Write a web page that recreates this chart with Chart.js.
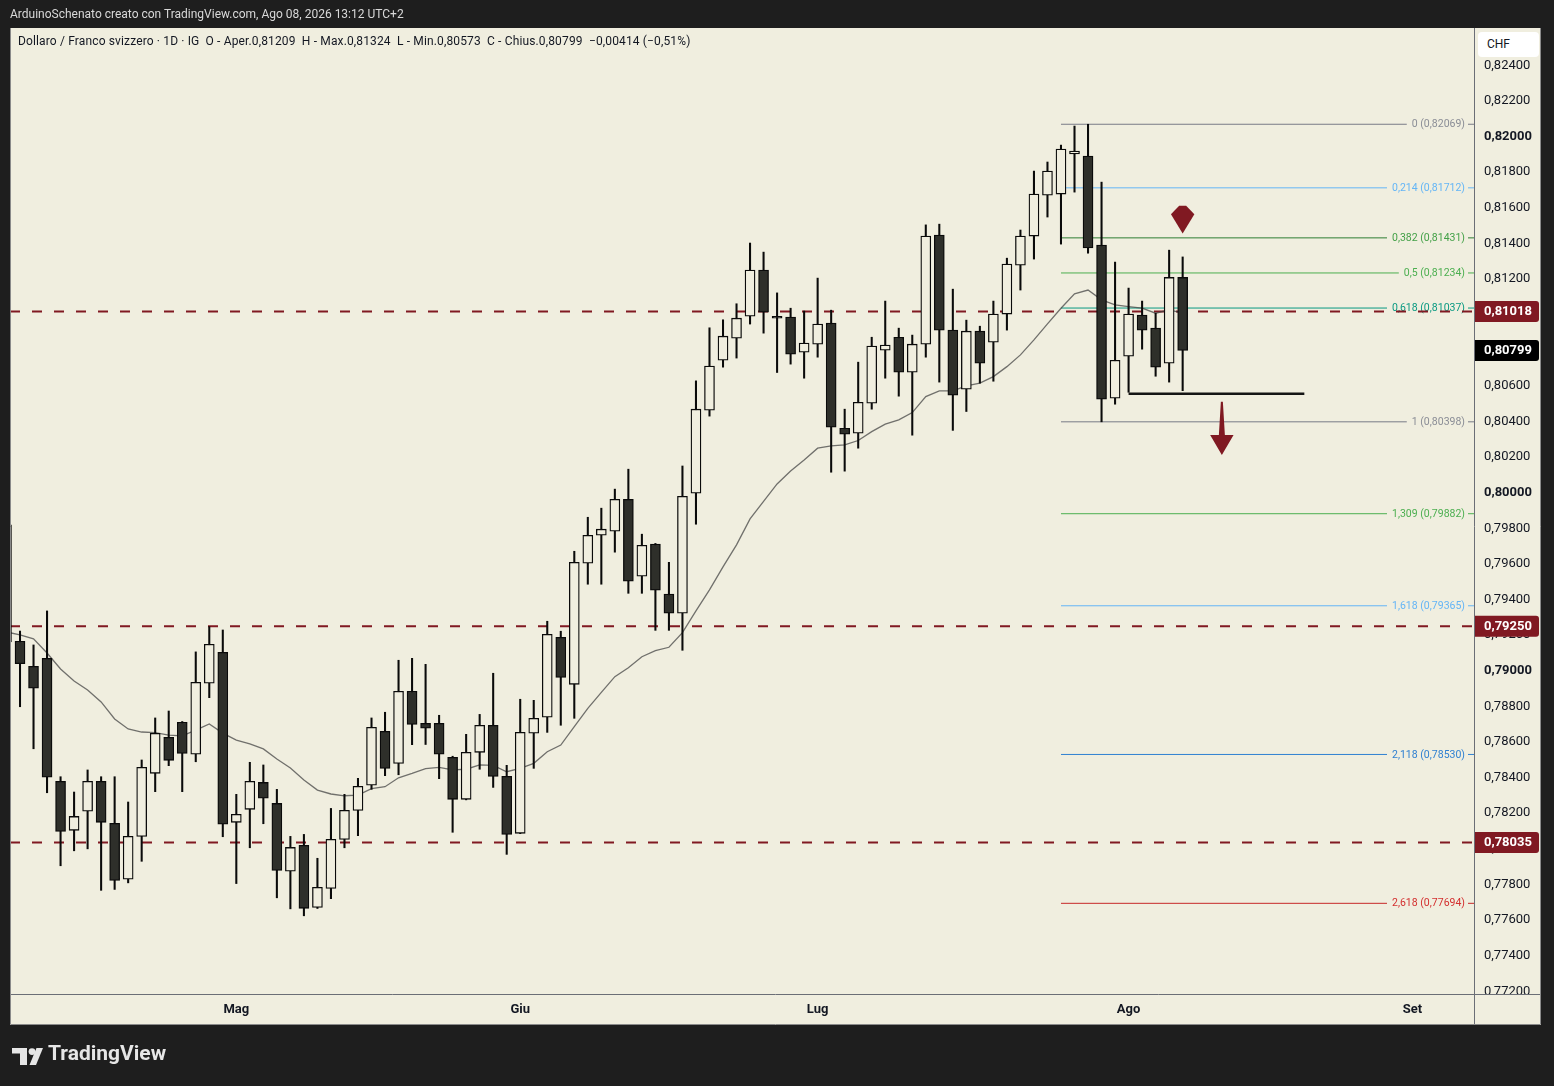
<!DOCTYPE html>
<html><head><meta charset="utf-8">
<script src="https://cdn.jsdelivr.net/npm/chart.js@4.4.1/dist/chart.umd.min.js"></script>
<style>
html,body{margin:0;padding:0;background:#1e1e1e;width:1554px;height:1086px;overflow:hidden}
#wrap{position:relative;width:1554px;height:1086px}
canvas{position:absolute;left:0;top:0}
.t{position:absolute;white-space:nowrap;font-family:Roboto,"Noto Sans",sans-serif}
</style></head><body>
<div id="wrap">
<canvas id="c" width="1554" height="1086"></canvas>
<div class="t" style="left:10px;top:7px;font-size:12px;color:#d8d8d8">ArduinoSchenato creato con TradingView.com, Ago 08, 2026 13:12 UTC+2</div>
<div class="t" style="left:18px;top:34px;font-size:12px;letter-spacing:0.14px;color:#131722">Dollaro / Franco svizzero · 1D · IG&nbsp; O - Aper.0,81209&nbsp; H - Max.0,81324&nbsp; L - Min.0,80573&nbsp; C - Chius.0,80799&nbsp; −0,00414 (−0,51%)</div>
<div class="t" style="left:1478px;top:32px;width:61px;height:25px;background:#ffffff;border-radius:4px;font-size:12px;color:#131722;line-height:25px;text-indent:9px">CHF</div>
<svg style="position:absolute;left:12px;top:1048px" width="32" height="18" viewBox="0 0 32 18">
  <rect x="0" y="0" width="15" height="5.5" fill="#e6e6e6"/>
  <rect x="8" y="0" width="7" height="17" fill="#e6e6e6"/>
  <circle cx="20" cy="3.6" r="3.4" fill="#e6e6e6"/>
  <polygon points="24.5,0 31,0 24,17 17.5,17" fill="#e6e6e6"/>
</svg>
<div class="t" style="left:48px;top:1041px;font-size:21px;font-weight:700;color:#e6e6e6">TradingView</div>
</div>
<script>
// ---- data (USD/CHF daily) ----
const candleStart = -17; // index of first candle (0 = 1 May 2026)
const opens  = [0.79819,0.79166,0.79025,0.79070,0.78379,0.78104,0.78211,0.78379,0.78143,0.77829,0.78070,0.78424,0.78626,0.78711,0.78531,0.78930,0.79104,
 0.78149,0.78222,0.78373,0.78255,0.77874,0.78020,0.77671,0.77778,0.78053,0.78216,0.78357,0.78660,0.78480,0.78885,0.78705,0.78705,0.78514,0.78278,0.78542,0.78694,0.78407,
 0.78087,0.78649,0.78739,0.79188,0.78924,0.79604,0.79761,0.79784,0.79963,0.79531,0.79711,0.79430,0.79323,0.79997,0.80463,0.80744,0.80868,0.80991,0.81250,0.80991,0.80986,0.80789,
 0.80834,0.80952,0.80362,0.80334,0.80503,0.80800,0.80873,0.80677,0.80834,0.81447,0.80913,0.80581,0.80907,0.80845,0.81003,0.81278,0.81441,0.81671,0.81677,0.81902,0.81890,0.81390,0.80531,
 0.80767,0.80997,0.80924,0.80727,0.81209];
const highs  = [0.79840,0.79223,0.79145,0.79336,0.78405,0.78319,0.78443,0.78405,0.78405,0.78263,0.78499,0.78735,0.78774,0.78715,0.79106,0.79248,0.79229,
 0.78306,0.78486,0.78471,0.78334,0.78070,0.78081,0.77947,0.78227,0.78306,0.78396,0.78735,0.78767,0.79059,0.79070,0.79036,0.78750,0.78520,0.78643,0.78755,0.78986,0.78469,
 0.78840,0.78834,0.79278,0.79222,0.79671,0.79862,0.79913,0.80020,0.80132,0.79767,0.79715,0.79609,0.80150,0.80628,0.80926,0.80971,0.81061,0.81402,0.81351,0.81122,0.81036,0.81020,
 0.81205,0.81025,0.80469,0.80733,0.80873,0.81076,0.80924,0.80885,0.81504,0.81508,0.81143,0.80969,0.80935,0.81076,0.81317,0.81475,0.81806,0.81857,0.81952,0.82059,0.82069,0.81744,0.81295,
 0.81149,0.81076,0.81008,0.81362,0.81324];
const lows   = [0.79130,0.78798,0.78562,0.78315,0.77905,0.77989,0.78000,0.77767,0.77772,0.77809,0.77930,0.78321,0.78467,0.78321,0.78489,0.78849,0.78068,
 0.77805,0.78006,0.78141,0.77725,0.77663,0.77624,0.77665,0.77720,0.78006,0.78074,0.78334,0.78411,0.78416,0.78585,0.78586,0.78394,0.78093,0.78275,0.78447,0.78345,0.77969,
 0.78085,0.78452,0.78654,0.78694,0.78733,0.79486,0.79486,0.79666,0.79435,0.79435,0.79227,0.79227,0.79115,0.79823,0.80430,0.80705,0.80756,0.80947,0.80896,0.80675,0.80722,0.80643,
 0.80761,0.80115,0.80121,0.80250,0.80469,0.80643,0.80542,0.80323,0.80761,0.80621,0.80350,0.80456,0.80615,0.80626,0.80913,0.81138,0.81312,0.81548,0.81396,0.81688,0.81345,0.80398,0.80497,
 0.80564,0.80806,0.80654,0.80621,0.80573];
const closes = [0.79162,0.79040,0.78902,0.78402,0.78098,0.78182,0.78379,0.78149,0.77823,0.78070,0.78458,0.78649,0.78497,0.78536,0.78935,0.79149,0.78138,
 0.78194,0.78379,0.78284,0.77879,0.78008,0.77666,0.77784,0.78053,0.78216,0.78351,0.78682,0.78452,0.78885,0.78699,0.78677,0.78531,0.78278,0.78542,0.78694,0.78407,0.78081,
 0.78654,0.78733,0.79205,0.78963,0.79609,0.79761,0.79795,0.79963,0.79503,0.79705,0.79452,0.79323,0.79980,0.80469,0.80711,0.80879,0.80980,0.81250,0.81014,0.80980,0.80778,0.80840,
 0.80947,0.80368,0.80329,0.80508,0.80823,0.80829,0.80677,0.80834,0.81441,0.80913,0.80548,0.80907,0.80727,0.81003,0.81284,0.81441,0.81677,0.81806,0.81930,0.81918,0.81374,0.80525,0.80744,
 0.81003,0.80913,0.80705,0.81209,0.80799];
const sma20  = [0.79218,0.79201,0.79179,0.79100,0.79010,0.78943,0.78892,0.78825,0.78729,0.78673,0.78656,0.78653,0.78639,0.78634,0.78667,0.78701,0.78650,
 0.78611,0.78589,0.78561,0.78504,0.78454,0.78386,0.78330,0.78308,0.78298,0.78302,0.78338,0.78349,0.78399,0.78424,0.78451,0.78457,0.78443,0.78447,0.78472,0.78469,0.78433,
 0.78452,0.78480,0.78545,0.78583,0.78686,0.78789,0.78879,0.78967,0.79017,0.79079,0.79113,0.79132,0.79214,0.79336,0.79454,0.79583,0.79707,0.79853,0.79951,0.80049,0.80122,0.80184,
 0.80250,0.80263,0.80268,0.80293,0.80343,0.80385,0.80409,0.80450,0.80540,0.80572,0.80572,0.80600,0.80615,0.80652,0.80708,0.80774,0.80858,0.80948,0.81036,0.81117,0.81138,0.81083,0.81055,
 0.81045,0.81036,0.81008,0.81027,0.81008];

const monthLabels = ['Mag','Giu','Lug','Ago','Set'];
const monthIdx    = [0, 21, 43, 66, 87];

const fibRatios = ['0','0,214','0,382','0,5','0,618','1','1,309','1,618','2,118','2,618'];
const fibPrices = [0.82069,0.81712,0.81431,0.81234,0.81037,0.80398,0.79882,0.79365,0.78530,0.77694];
const fibFrom = 61;

const keyLevels = [0.81018, 0.79250, 0.78035];
const lastPrice = 0.80799;
const supportLevel = 0.80555, supportFrom = 66, supportTo = 79;

const arrowX   = [70, 72.9];
const arrowTop = [0.81611, 0.80511];
const arrowTip = [0.81455, 0.80212];

// ---- styles ----
const BG = '#f0eedf', BEAR = '#2e2f2a', INK = '#0a0a0a', RED = '#801922';
const fibLineColors = ['#787b86','#64b5f6','#2e7d32','#4caf50','#089981','#787b86','#4caf50','#64b5f6','#2f80d1','#c62828'];
const fibTextColors = ['#8a8d96','#64b5f6','#43a047','#4caf50','#089981','#8a8d96','#4caf50','#64b5f6','#2f80d1','#d32f2f'];
const FONT = 'Roboto, "Noto Sans", sans-serif';
const X_MIN = -16.74, X_MAX = 91.55, Y_MIN = 0.771848, Y_MAX = 0.826096;

const fmt = v => v.toFixed(5).replace('.', ',');
const xs = opens.map((_, k) => candleStart + k);

const datasets = [];
fibPrices.forEach((p, j) => datasets.push({
  type:'line', kind:'fib', data:[{x:fibFrom,y:p},{x:X_MAX,y:p}],
  borderColor:fibLineColors[j], borderWidth:1, pointRadius:0, order:10
}));
keyLevels.forEach(p => datasets.push({
  type:'line', kind:'key', data:[{x:X_MIN,y:p},{x:X_MAX,y:p}],
  borderColor:RED, borderWidth:2, borderDash:[10,12], pointRadius:0, order:8
}));
datasets.push({type:'line', data:[{x:supportFrom,y:supportLevel},{x:supportTo,y:supportLevel}],
  borderColor:'#151515', borderWidth:2.5, pointRadius:0, order:7});
datasets.push({type:'line', data:xs.map((x,k)=>({x, y:sma20[k]})),
  borderColor:'rgba(70,70,70,0.75)', borderWidth:1.3, pointRadius:0, tension:0, order:6});
datasets.push({type:'bar', data:xs.map((x,k)=>({x, y:[lows[k], highs[k]]})),
  backgroundColor:INK, borderWidth:0, barThickness:1.4, grouped:false, order:5});
datasets.push({type:'bar', data:xs.map((x,k)=>({x, y:[opens[k], closes[k]]})),
  backgroundColor: c => closes[c.dataIndex] >= opens[c.dataIndex] ? BG : BEAR,
  borderColor:INK, borderWidth:1.3, borderSkipped:false, barThickness:10, grouped:false, order:4});

let labelsDrawn = false;
function drawFibLabels(chart){
  const ctx = chart.ctx, y = chart.scales.y, ca = chart.chartArea;
  ctx.save();
  ctx.font = '10.5px ' + FONT;
  ctx.textAlign = 'right'; ctx.textBaseline = 'middle';
  fibPrices.forEach((p, j) => {
    const py = y.getPixelForValue(p);
    const txt = fibRatios[j] + ' (' + fmt(p) + ')';
    const w = ctx.measureText(txt).width;
    const xr = ca.right - 9;
    ctx.fillStyle = BG;
    ctx.fillRect(xr - w - 5, py - 6, w + 8, 12);
    ctx.fillStyle = fibTextColors[j];
    ctx.fillText(txt, xr, py + 0.5);
  });
  ctx.restore();
}

const tvPlugin = {
  id:'tv',
  beforeDraw(chart){
    labelsDrawn = false;
    const ctx = chart.ctx;
    ctx.save();
    ctx.fillStyle = BG;
    ctx.fillRect(10, 28, 1531, 997);
    ctx.restore();
  },
  beforeDatasetDraw(chart, args){
    const ds = chart.data.datasets[args.index];
    if (!labelsDrawn && ds.kind === 'key') { drawFibLabels(chart); labelsDrawn = true; }
  },
  afterDatasetsDraw(chart){
    const ctx = chart.ctx, xS = chart.scales.x, yS = chart.scales.y;
    ctx.save();
    ctx.fillStyle = RED;
    let x = xS.getPixelForValue(arrowX[0]), t = yS.getPixelForValue(arrowTop[0]), b = yS.getPixelForValue(arrowTip[0]);
    ctx.beginPath();
    ctx.moveTo(x-3.5, t); ctx.lineTo(x+3.5, t); ctx.lineTo(x+11.7, t+8.5);
    ctx.lineTo(x, b); ctx.lineTo(x-11.7, t+8.5); ctx.closePath(); ctx.fill();
    x = xS.getPixelForValue(arrowX[1]); t = yS.getPixelForValue(arrowTop[1]); b = yS.getPixelForValue(arrowTip[1]);
    const hy = b - 20;
    ctx.beginPath();
    ctx.moveTo(x-1, t); ctx.lineTo(x+1, t); ctx.lineTo(x+3, hy); ctx.lineTo(x+11.7, hy);
    ctx.lineTo(x, b); ctx.lineTo(x-11.7, hy); ctx.lineTo(x-3, hy); ctx.closePath(); ctx.fill();
    ctx.restore();
  },
  afterDraw(chart){
    const ctx = chart.ctx, ca = chart.chartArea, yS = chart.scales.y;
    ctx.save();
    ctx.fillStyle = BG;
    ctx.fillRect(ca.right + 1, ca.bottom + 1, 66, 30);
    const tags = [[keyLevels[0], RED], [lastPrice, '#000000'], [keyLevels[1], RED], [keyLevels[2], RED]];
    ctx.font = 'bold 13px ' + FONT;
    ctx.textBaseline = 'middle'; ctx.textAlign = 'left';
    tags.forEach(([v, col]) => {
      const py = yS.getPixelForValue(v);
      ctx.fillStyle = col;
      ctx.beginPath();
      ctx.roundRect(ca.right + 1, py - 10.5, 64, 21, [0, 3, 3, 0]);
      ctx.fill();
      ctx.fillStyle = '#ffffff';
      ctx.fillText(fmt(v), ca.right + 10, py + 0.5);
    });
    ctx.strokeStyle = '#6b6e76'; ctx.lineWidth = 1;
    ctx.beginPath();
    ctx.moveTo(ca.right + 0.5, 28); ctx.lineTo(ca.right + 0.5, 1025);
    ctx.moveTo(10, ca.bottom + 0.5); ctx.lineTo(1541, ca.bottom + 0.5);
    ctx.stroke();
    ctx.strokeStyle = '#8a8a8a';
    ctx.beginPath();
    ctx.moveTo(10.5, 28); ctx.lineTo(10.5, 1024.5); ctx.lineTo(1540.5, 1024.5); ctx.lineTo(1540.5, 28);
    ctx.stroke();
    ctx.restore();
  }
};

new Chart(document.getElementById('c'), {
  type:'bar',
  data:{datasets},
  options:{
    responsive:false, animation:false,
    layout:{padding:{left:10, top:28, right:13, bottom:61}},
    plugins:{legend:{display:false}, tooltip:{enabled:false}},
    events:[],
    scales:{
      x:{
        type:'linear', min:X_MIN, max:X_MAX, offset:false, position:'bottom',
        grid:{display:false, drawTicks:false}, border:{display:false},
        afterFit(s){ s.height = 31; },
        afterBuildTicks(s){ s.ticks = monthIdx.map(v => ({value:v})); },
        ticks:{
          autoSkip:false, maxRotation:0, padding:8, color:'#131722',
          font:{family:FONT, size:13, weight:'bold'},
          callback:v => { const k = monthIdx.indexOf(v); return k >= 0 ? monthLabels[k] : ''; }
        }
      },
      y:{
        type:'linear', position:'right', min:Y_MIN, max:Y_MAX,
        grid:{display:false, drawTicks:false}, border:{display:false},
        afterFit(s){ s.width = 67; },
        afterBuildTicks(s){ s.ticks = s.ticks.filter(t => t.value < 0.8255); },
        ticks:{
          stepSize:0.002, includeBounds:false, autoSkip:false, padding:10, color:'#131722',
          font: c => ({family:FONT, size:13,
            weight: (c.tick && Math.abs(c.tick.value*100 - Math.round(c.tick.value*100)) < 1e-6) ? 'bold' : 'normal'}),
          callback:v => fmt(v)
        }
      }
    }
  },
  plugins:[tvPlugin]
});
</script>
</body></html>
